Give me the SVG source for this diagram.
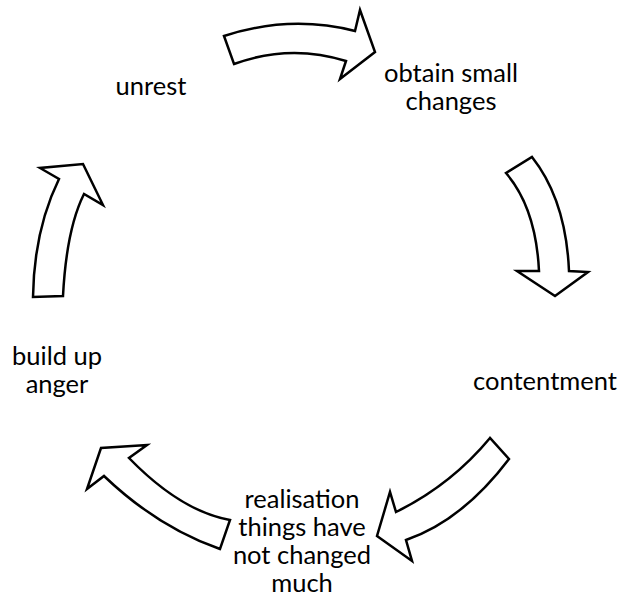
<svg xmlns="http://www.w3.org/2000/svg" width="620" height="604" viewBox="0 0 620 604">
  <style>
    .arrow { fill: #ffffff; stroke: #000000; stroke-width: 2.5; stroke-linejoin: miter; }
    .label { font-family: Lato, "Open Sans", "Liberation Sans", sans-serif; font-size: 25.5px; fill: #000000; text-anchor: middle; }
  </style>
  <rect width="620" height="604" fill="#ffffff"/>
  <g id="connectors">
    <path id="arrow-top" class="arrow" d="M224,36 Q290,14.5 355,31 L360,10 L375,52 L340,79 L346,61 Q290,43.5 234,64 Z"/>
    <path id="arrow-right" class="arrow" d="M506,173 Q536,208 539,271 L517,271 L555,296 L588,272 L569,271 Q566,200 532,157 Z"/>
    <path id="arrow-bottom-right" class="arrow" d="M490,438 Q451,485 396,512 L390,492 L377,536 L412,561 L406,540 Q462.5,520.5 509,459 Z"/>
    <path id="arrow-bottom-left" class="arrow" d="M129,458 Q180.5,511 230,520 L220,549 Q158,527.5 104,476 L87,489 L101,448 L147,445 Z"/>
    <path id="arrow-left" class="arrow" d="M33,297 Q34,230 59,179 L40,168 L83,164 L103,205 L84,194 Q66.5,229 63,296 Z"/>
  </g>
  <g id="node-unrest">
    <text class="label" x="151" y="95">unrest</text>
  </g>
  <g id="node-obtain">
    <text class="label" x="451" y="82">obtain small</text>
    <text class="label" x="451" y="110">changes</text>
  </g>
  <g id="node-contentment">
    <text class="label" x="545" y="390">contentment</text>
  </g>
  <g id="node-realisation">
    <text class="label" x="302" y="508">realisation</text>
    <text class="label" x="302" y="536">things have</text>
    <text class="label" x="302" y="564">not changed</text>
    <text class="label" x="302" y="592">much</text>
  </g>
  <g id="node-anger">
    <text class="label" x="57" y="365">build up</text>
    <text class="label" x="57" y="393">anger</text>
  </g>
</svg>
